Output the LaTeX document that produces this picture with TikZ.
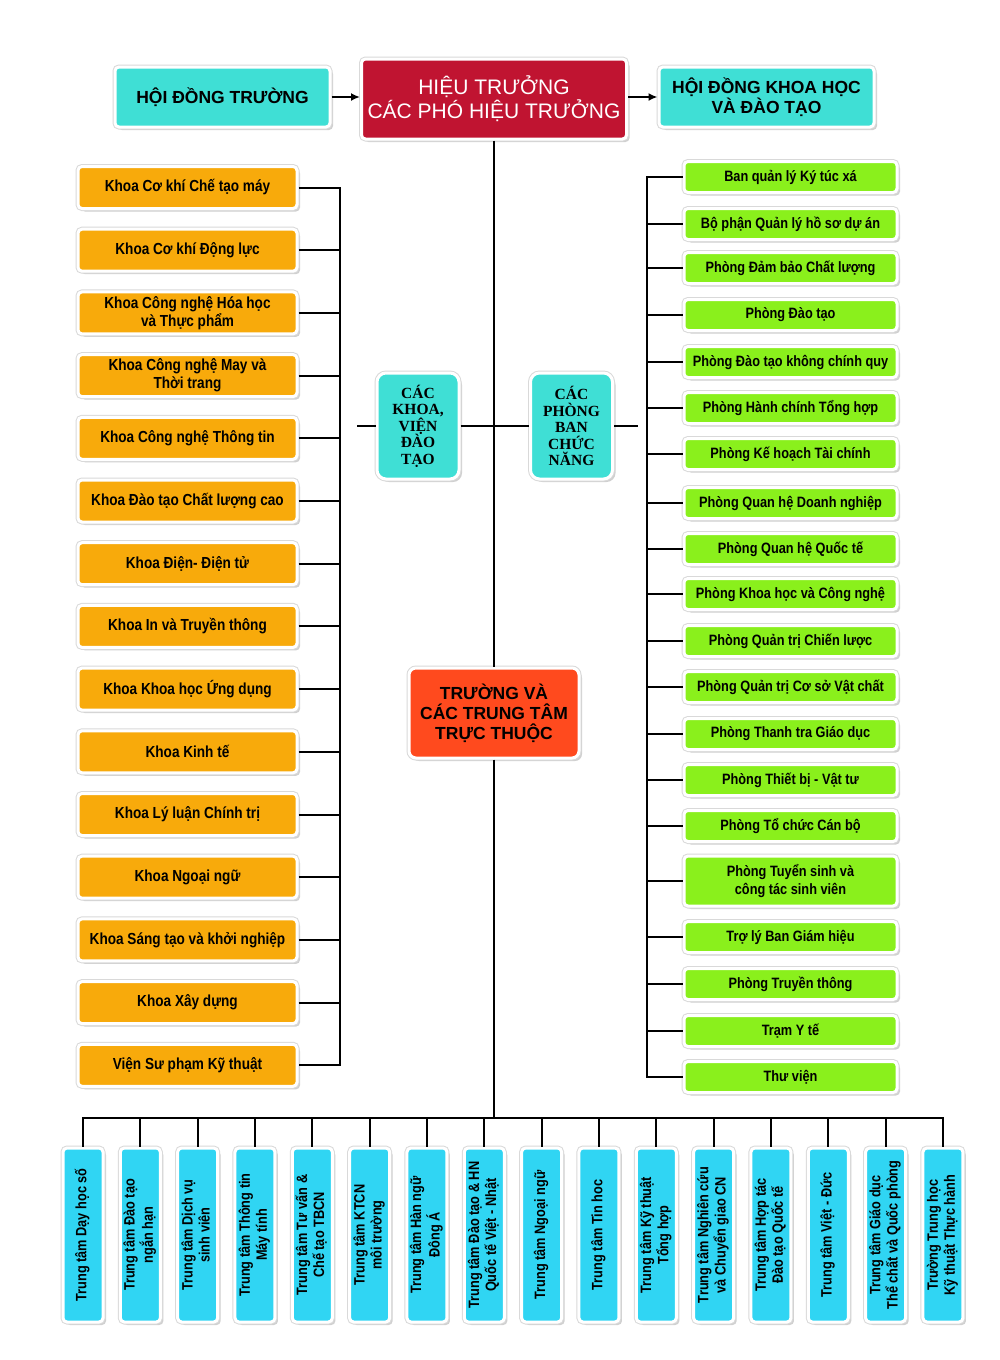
\documentclass[tikz,border=0pt]{standalone}
\usepackage{fontspec}
\usepackage{graphicx}
\setmainfont{Liberation Sans}
\newfontfamily\narrowfont[FakeStretch=0.85]{Liberation Sans}
\newfontfamily\seriffont{Liberation Serif}
\usetikzlibrary{arrows.meta,shadows}

\definecolor{khoaorange}{HTML}{F8AA0B}
\definecolor{phonggreen}{HTML}{8AF01C}
\definecolor{ttcyan}{HTML}{30D5F3}
\definecolor{topteal}{HTML}{3FDFD5}
\definecolor{headred}{HTML}{C01431}
\definecolor{ttred}{HTML}{FF4A1E}

\newcommand{\vtext}[1]{\rotatebox{90}{\begin{tabular}{@{}c@{}}#1\end{tabular}}}

\tikzset{
  box/.style={rounded corners=4pt, align=center, text=black, inner sep=2pt,
    drop shadow={shadow xshift=3pt, shadow yshift=-3pt, opacity=.3, fill=black!60},
    preaction={draw=black!15, line width=5pt},
    draw=white, line width=3pt},
  topbox/.style={box, fill=topteal, minimum width=215pt, minimum height=60pt,
    font=\bfseries\fontsize{17.5}{20}\selectfont},
  headbox/.style={box, fill=headred, text=white, minimum width=265pt, minimum height=80pt,
    font=\fontsize{21}{24}\selectfont},
  groupbox/.style={box, rounded corners=9pt, fill=topteal, minimum width=82pt, minimum height=106pt,
    font=\seriffont\bfseries\fontsize{15.5}{16.5}\selectfont},
  khoa/.style={box, fill=khoaorange, minimum width=219pt, minimum height=42pt,
    font=\narrowfont\bfseries\fontsize{16}{18}\selectfont},
  phong/.style={box, fill=phonggreen, minimum width=213pt,
    font=\narrowfont\bfseries\fontsize{15}{18}\selectfont},
  ttbox/.style={box, fill=ttred, minimum width=170pt, minimum height=90pt, rounded corners=7pt,
    font=\bfseries\fontsize{17.5}{20}\selectfont},
  trungtam/.style={box, fill=ttcyan, minimum width=40pt, minimum height=174pt,
    font=\narrowfont\bfseries\fontsize{15}{17}\selectfont},
  link/.style={line width=2pt},
  arr/.style={line width=2pt, -{Latex[length=9pt,width=8pt]}}
}

\begin{document}
\begin{tikzpicture}[x=1pt, y=-1pt]
  \fill[white] (0,0) rectangle (1000,1360);
  \useasboundingbox (0,0) rectangle (1000,1360);

  % top row
  \node[topbox] (hdt) at (222.5,97) {HỘI ĐỒNG TRƯỜNG};
  \node[headbox] (ht) at (494,99) {HIỆU TRƯỞNG\\CÁC PHÓ HIỆU TRƯỞNG};
  \node[topbox] (hdkh) at (766.5,97) {HỘI ĐỒNG KHOA HỌC\\VÀ ĐÀO TẠO};
  \draw[arr] (hdt.east) -- (hdt.east -| ht.west);
  \draw[arr] (hdt.east -| ht.east) -- (hdt.east -| hdkh.west);

  % group boxes
  \node[groupbox] (ckv) at (418,426) {CÁC\\KHOA,\\VIỆN\\ĐÀO\\TẠO};
  \node[groupbox] (cpb) at (571.5,426) {CÁC\\PHÒNG\\BAN\\CHỨC\\NĂNG};
  \node[ttbox] (tt) at (494,713) {TRƯỜNG VÀ\\CÁC TRUNG TÂM\\TRỰC THUỘC};

  \coordinate (lstub) at (357,426);
  \coordinate (rstub) at (638,426);
  \coordinate (kbus) at (340,0);
  \coordinate (pbus) at (647,0);
  \coordinate (tbus) at (0,1118);

  \draw[link] (ht.south) -- (tt.north);
  \draw[link] (tt.south) -- (tt.south |- tbus);
  \draw[link] (ckv.east) -- (cpb.west);
  \draw[link] (lstub) -- (ckv.west);
  \draw[link] (cpb.east) -- (rstub);

  % khoa, vien
  \foreach \name [count=\i] in {Khoa Cơ khí Chế tạo máy, Khoa Cơ khí Động lực,
      {Khoa Công nghệ Hóa học\\và Thực phẩm}, {Khoa Công nghệ May và\\Thời trang},
      Khoa Công nghệ Thông tin, Khoa Đào tạo Chất lượng cao, Khoa Điện- Điện tử,
      Khoa In và Truyền thông, Khoa Khoa học Ứng dụng, Khoa Kinh tế,
      Khoa Lý luận Chính trị, Khoa Ngoại ngữ, Khoa Sáng tạo và khởi nghiệp,
      Khoa Xây dựng, Viện Sư phạm Kỹ thuật}
    \node[khoa] (k\i) at (187.5,{187.5+62.7*(\i-1)}) {\name};
  \foreach \i in {2,...,14}
    \draw[link] (k\i.east) -- (k\i.east -| kbus);
  \draw[link] (k1.east) -- (k1.east -| kbus) -- (k15.east -| kbus) -- (k15.east);

  % phong ban
  \foreach \y/\h/\name [count=\i] in {177/31/Ban quản lý Ký túc xá,
      224/31/Bộ phận Quản lý hồ sơ dự án, 268/31/Phòng Đảm bảo Chất lượng,
      315/31/Phòng Đào tạo, 362/31/Phòng Đào tạo không chính quy,
      408/31/Phòng Hành chính Tổng hợp, 454/31/Phòng Kế hoạch Tài chính,
      503/31/Phòng Quan hệ Doanh nghiệp, 549/31/Phòng Quan hệ Quốc tế,
      594/31/Phòng Khoa học và Công nghệ, 641/31/Phòng Quản trị Chiến lược,
      687/31/Phòng Quản trị Cơ sở Vật chất, 734/31/Phòng Thanh tra Giáo dục,
      780/31/Phòng Thiết bị - Vật tư, 826/31/Phòng Tổ chức Cán bộ,
      881/50/Phòng Tuyển sinh và\\công tác sinh viên, 937/31/Trợ lý Ban Giám hiệu,
      984/31/Phòng Truyền thông, 1031/31/Trạm Y tế, 1077/31/Thư viện}
    \node[phong, minimum height=\h pt] (p\i) at (790.5,\y) {\name};
  \foreach \i in {2,...,19}
    \draw[link] (p\i.west) -- (p\i.west -| pbus);
  \draw[link] (p1.west) -- (p1.west -| pbus) -- (p20.west -| pbus) -- (p20.west);

  % trung tam
  \foreach \name [count=\i] in {Trung tâm Dạy học số, Trung tâm Đào tạo\\ngắn hạn,
      Trung tâm Dịch vụ\\sinh viên, Trung tâm Thông tin\\Máy tính,
      Trung tâm Tư vấn \&\\Chế tạo TBCN, Trung tâm KTCN\\môi trường,
      Trung tâm Hàn ngữ\\Đông Á, Trung tâm Đào tạo \& HN\\Quốc tế Việt - Nhật,
      Trung tâm Ngoại ngữ, Trung tâm Tin hoc, Trung tâm Kỹ thuật\\Tổng hợp,
      Trung tâm Nghiên cứu\\và Chuyển giao CN, Trung tâm Hợp tác\\Đào tạo Quốc tế,
      Trung tâm Việt - Đức, Trung tâm Giáo dục\\Thể chất và Quốc phòng,
      Trường Trung học\\Kỹ thuật Thực hành}
    \node[trungtam] (t\i) at ({83+57.33*(\i-1)},1235) {\vtext{\name}};
  \foreach \i in {2,...,15}
    \draw[link] (t\i.north) -- (t\i.north |- tbus);
  \draw[link] (t1.north) -- (t1.north |- tbus) -- (t16.north |- tbus) -- (t16.north);
\end{tikzpicture}
\end{document}
